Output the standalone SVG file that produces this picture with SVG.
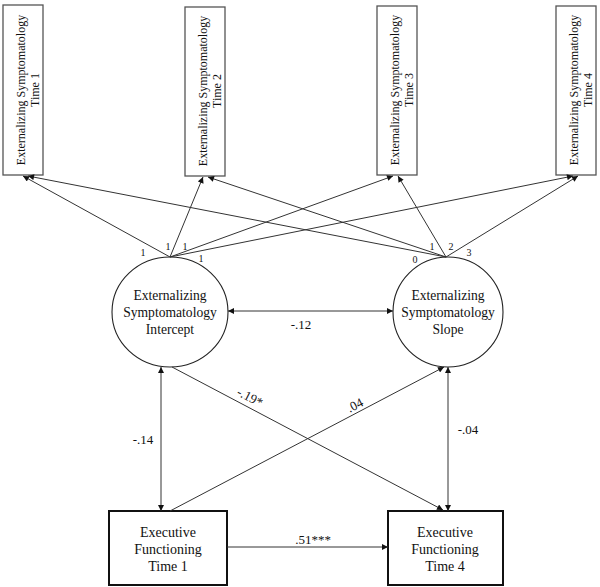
<svg xmlns="http://www.w3.org/2000/svg" width="600" height="587" viewBox="0 0 600 587">
<style>
text{font-family:"Liberation Serif","Times New Roman",serif;fill:#111}
.ob rect{fill:#fff;stroke:#555;stroke-width:1.3}
.ob text{font-size:12px;text-anchor:middle}
.lat ellipse{fill:#fff;stroke:#222;stroke-width:1.1}
.lat text{font-size:13.6px;text-anchor:middle}
.ef rect{fill:#fff;stroke:#111;stroke-width:2}
.ef text{font-size:14px;text-anchor:middle}
.c line{stroke:#333;stroke-width:1;fill:none}
.lbl{font-size:13px;text-anchor:middle}
.sm{font-size:10px;text-anchor:middle}
</style>
<defs>
<marker id="ah" viewBox="0 0 10 10" refX="10" refY="5" markerWidth="7" markerHeight="6" markerUnits="userSpaceOnUse" orient="auto-start-reverse">
<path d="M0,0 L10,5 L0,10 z" fill="#111"/>
</marker>
</defs>
<rect width="600" height="587" fill="#fff"/>
<g id="es1" class="ob"><rect x="3" y="5" width="40" height="170"/><text transform="translate(25,90) rotate(-90)">Externalizing Symptomatology</text><text transform="translate(39,90) rotate(-90)">Time 1</text></g>
<g id="es2" class="ob"><rect x="185" y="7" width="40" height="169"/><text transform="translate(207,91) rotate(-90)">Externalizing Symptomatology</text><text transform="translate(221,91) rotate(-90)">Time 2</text></g>
<g id="es3" class="ob"><rect x="377" y="6" width="40" height="169"/><text transform="translate(399,90) rotate(-90)">Externalizing Symptomatology</text><text transform="translate(413,90) rotate(-90)">Time 3</text></g>
<g id="es4" class="ob"><rect x="556" y="6" width="40" height="169"/><text transform="translate(578,90) rotate(-90)">Externalizing Symptomatology</text><text transform="translate(592,90) rotate(-90)">Time 4</text></g>
<g id="intercept" class="lat"><ellipse cx="170" cy="312" rx="58" ry="55"/><text x="170" y="300">Externalizing</text><text x="170" y="317">Symptomatology</text><text x="170" y="334">Intercept</text></g>
<g id="slope" class="lat"><ellipse cx="448" cy="312" rx="55" ry="55"/><text x="448" y="300">Externalizing</text><text x="448" y="317">Symptomatology</text><text x="448" y="334">Slope</text></g>
<g id="ef1" class="ef"><rect x="109" y="511" width="118" height="74"/><text x="168" y="537">Executive</text><text x="168" y="554">Functioning</text><text x="168" y="571">Time 1</text></g>
<g id="ef4" class="ef"><rect x="388" y="511" width="115" height="74"/><text x="445" y="537">Executive</text><text x="445" y="554">Functioning</text><text x="445" y="571">Time 4</text></g>
<g id="connectors" class="c">
<line x1="170" y1="257" x2="23" y2="176" marker-end="url(#ah)"/>
<line x1="170" y1="257" x2="203" y2="177" marker-end="url(#ah)"/>
<line x1="170" y1="257" x2="393" y2="176" marker-end="url(#ah)"/>
<line x1="170" y1="257" x2="573" y2="176" marker-end="url(#ah)"/>
<line x1="446" y1="257" x2="28" y2="176" marker-end="url(#ah)"/>
<line x1="446" y1="257" x2="208" y2="177" marker-end="url(#ah)"/>
<line x1="446" y1="257" x2="398" y2="176" marker-end="url(#ah)"/>
<line x1="446" y1="257" x2="578" y2="176" marker-end="url(#ah)"/>
<line x1="228" y1="311" x2="393" y2="311" marker-start="url(#ah)" marker-end="url(#ah)"/>
<line x1="161" y1="367" x2="161" y2="511" marker-start="url(#ah)" marker-end="url(#ah)"/>
<line x1="448" y1="367" x2="448" y2="511" marker-start="url(#ah)" marker-end="url(#ah)"/>
<line x1="172" y1="367" x2="443" y2="510" marker-end="url(#ah)"/>
<line x1="170" y1="511" x2="444" y2="367" marker-end="url(#ah)"/>
<line x1="227" y1="547" x2="388" y2="547" marker-end="url(#ah)"/>
</g>
<g id="labels">
<text class="sm" x="143" y="256">1</text>
<text class="sm" x="168" y="250">1</text>
<text class="sm" x="185" y="250">1</text>
<text class="sm" x="201" y="262">1</text>
<text class="sm" x="415" y="263">0</text>
<text class="sm" x="432" y="250">1</text>
<text class="sm" x="451" y="250">2</text>
<text class="sm" x="469" y="256">3</text>
<text class="lbl" x="301" y="329">-.12</text>
<text class="lbl" x="143" y="444">-.14</text>
<text class="lbl" x="468" y="434">-.04</text>
<text class="lbl" x="313" y="544">.51***</text>
<text class="lbl" transform="translate(248,401) rotate(27.6)">-.19*</text>
<text class="lbl" transform="translate(357,409) rotate(-27.6)">.04</text>
</g>
</svg>
